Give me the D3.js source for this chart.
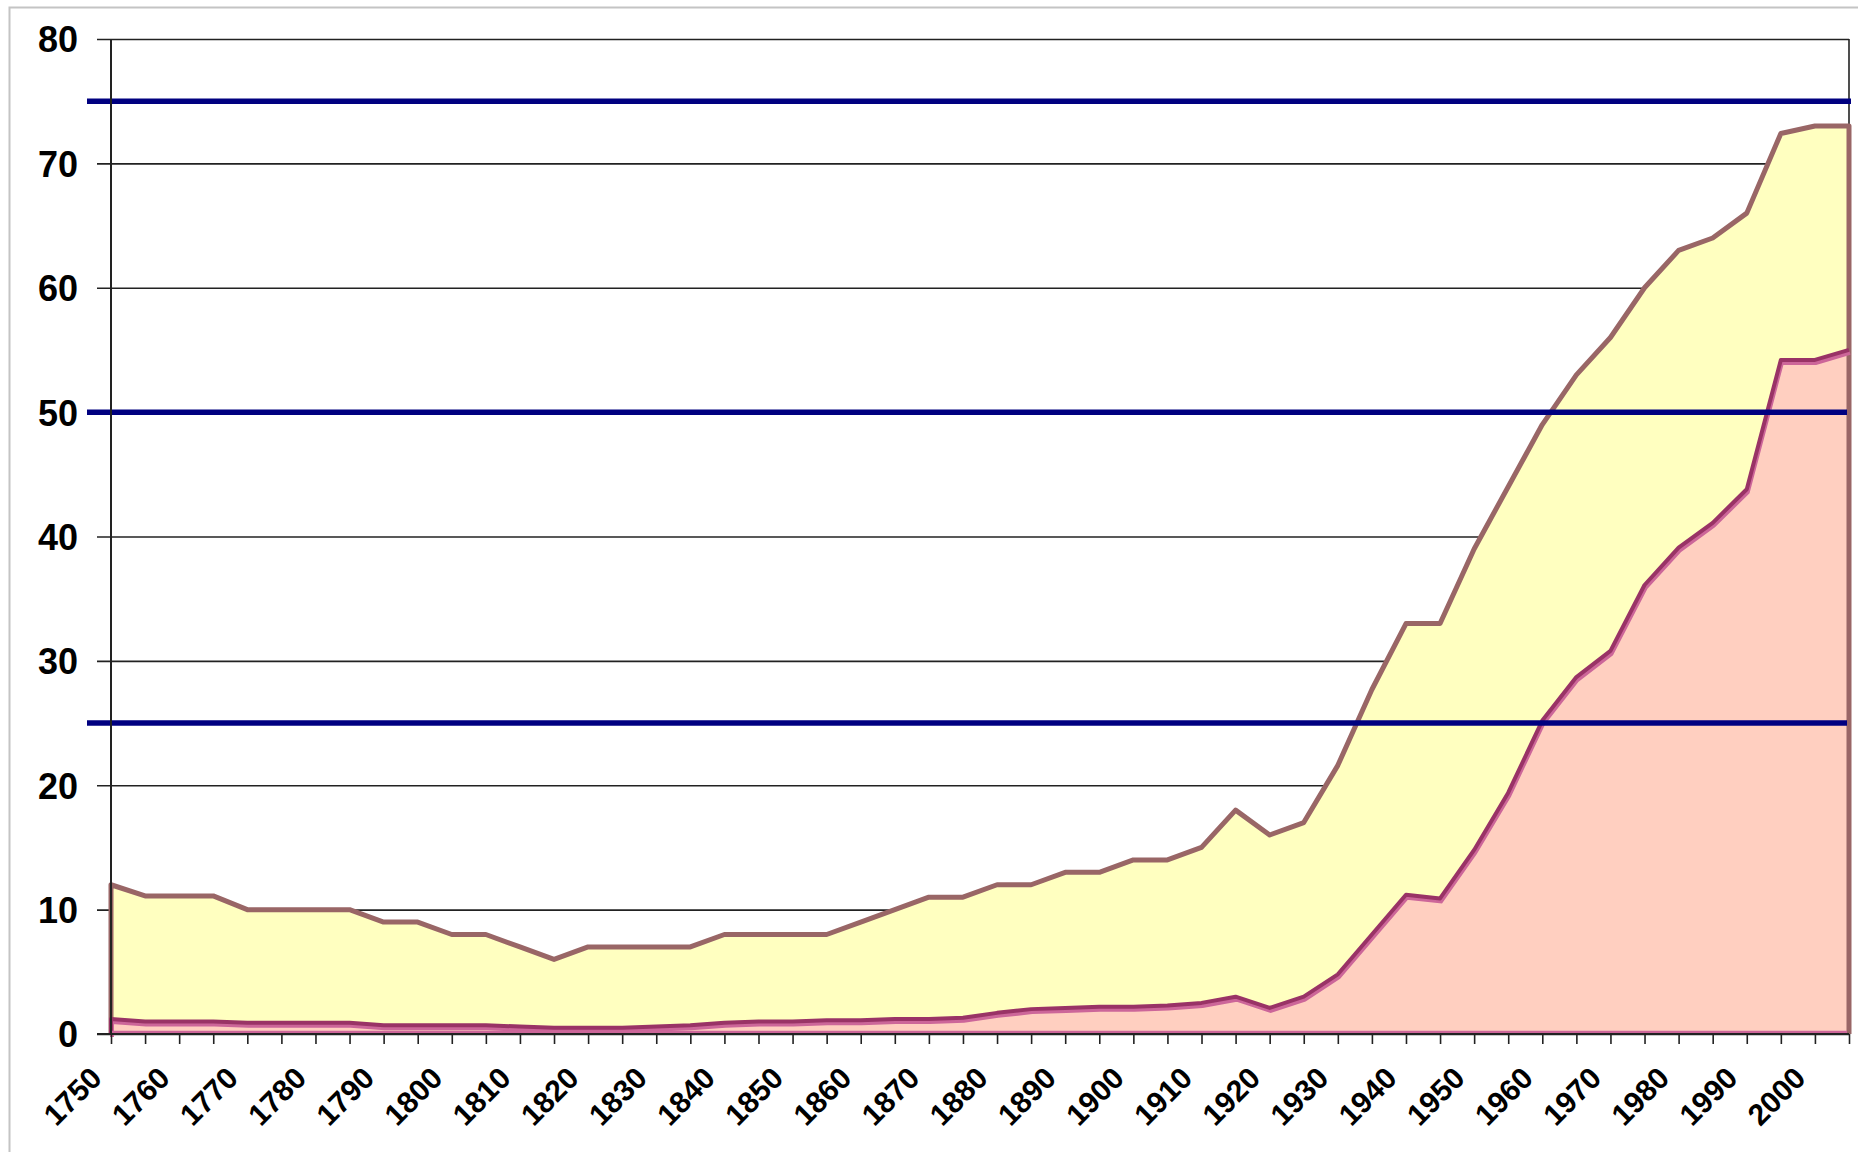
<!DOCTYPE html>
<head>
    <meta charset="utf-8">
    <title>Urban population share, 1750-2005</title>
    <style>
        body { margin: 0; background: #fff; }
        svg { display: block; }
        .ylab text { font-family: "Liberation Sans", Arial, sans-serif; font-weight: bold; font-size: 36px; fill: #000; }
        .xaxis text { font-family: "Liberation Sans", Arial, sans-serif; font-weight: bold; font-size: 30px; fill: #000; }
    </style>
</head>
<body>

<svg width="1858" height="1152"></svg>

<script src="https://d3js.org/d3.v7.min.js"></script>
<script>

    // categories: every 5 years
    var years = [1750, 1755, 1760, 1765, 1770, 1775, 1780, 1785, 1790, 1795,
        1800, 1805, 1810, 1815, 1820, 1825, 1830, 1835, 1840, 1845,
        1850, 1855, 1860, 1865, 1870, 1875, 1880, 1885, 1890, 1895,
        1900, 1905, 1910, 1915, 1920, 1925, 1930, 1935, 1940, 1945,
        1950, 1955, 1960, 1965, 1970, 1975, 1980, 1985, 1990, 1995,
        2000, 2005];

    // upper (yellow) series
    var upper = [12, 11.1, 11.1, 11.1, 10, 10, 10, 10, 9, 9,
        8, 8, 7, 6, 7, 7, 7, 7, 8, 8,
        8, 8, 9, 10, 11, 11, 12, 12, 13, 13,
        14, 14, 15, 18, 16, 17, 21.6, 27.7, 33, 33,
        39, 44, 49, 53, 56, 60, 63, 64, 66, 72.4,
        73, 73];

    // lower (pink) series
    var lower = [1.2, 1.0, 1.0, 1.0, 0.9, 0.9, 0.9, 0.9, 0.7, 0.7,
        0.7, 0.7, 0.6, 0.5, 0.5, 0.5, 0.6, 0.7, 0.9, 1.0,
        1.0, 1.1, 1.1, 1.2, 1.2, 1.3, 1.7, 2.0, 2.1, 2.2,
        2.2, 2.3, 2.5, 3.0, 2.1, 3.0, 4.8, 8.0, 11.2, 10.9,
        14.8, 19.4, 25.2, 28.7, 30.8, 36.1, 39.1, 41.1, 43.8, 54.2,
        54.2, 55];

    var yTicks = [0, 10, 20, 30, 40, 50, 60, 70, 80];
    var xLabels = [1750, 1760, 1770, 1780, 1790, 1800, 1810, 1820, 1830, 1840,
        1850, 1860, 1870, 1880, 1890, 1900, 1910, 1920, 1930, 1940,
        1950, 1960, 1970, 1980, 1990, 2000];
    var refLines = [25, 50, 75];

    var svg = d3.select("svg");

    var x = d3.scaleLinear().domain([1750, 2005]).range([111, 1849]);
    var y = d3.scaleLinear().domain([0, 80]).range([1034, 39]);

    // slide frame
    svg.append("path")
        .attr("d", "M9.5,1152 L9.5,7.5 L1858,7.5")
        .attr("fill", "none")
        .attr("stroke", "#c4c4c4")
        .attr("stroke-width", 2);

    // gridlines
    svg.append("g")
        .attr("transform", "translate(" + x(2005) + ",0)")
        .call(d3.axisLeft(y).tickValues(yTicks).tickSize(x(2005) - 97).tickFormat(""))
        .call(function (g) {
            g.select(".domain").remove();
            g.selectAll("line").attr("stroke", "#222").attr("stroke-width", 1.6);
        });

    // right border
    svg.append("line")
        .attr("x1", x(2005)).attr("x2", x(2005))
        .attr("y1", y(80)).attr("y2", y(0))
        .attr("stroke", "#222").attr("stroke-width", 1.6);

    var upperData = years.map(function (d, i) { return {year: d, v: upper[i]}; });
    var lowerData = years.map(function (d, i) { return {year: d, v: lower[i]}; });

    var area = d3.area()
        .x(function (d) { return x(d.year); })
        .y0(y(0))
        .y1(function (d) { return y(d.v); });

    var line = d3.line()
        .x(function (d) { return x(d.year); })
        .y(function (d) { return y(d.v); });

    // upper area
    svg.append("path")
        .datum(upperData)
        .attr("fill", "#ffffc0")
        .attr("d", area);

    // lower area
    svg.append("path")
        .datum(lowerData)
        .attr("fill", "#ffcfc0")
        .attr("d", area);

    // outline of upper series, including its vertical sides
    var upperOutline = [{year: 1750, v: 0}].concat(upperData, [{year: 2005, v: 0}]);
    svg.append("path")
        .datum(upperOutline)
        .attr("fill", "none")
        .attr("stroke", "#996666")
        .attr("stroke-width", 5)
        .attr("stroke-linejoin", "round")
        .attr("d", line);

    // lower series line: pink shade under a dark magenta line
    var lowerOutline = [{year: 1750, v: 0}].concat(lowerData);
    svg.append("path")
        .datum(lowerOutline)
        .attr("fill", "none")
        .attr("stroke", "#cc6699")
        .attr("stroke-width", 4)
        .attr("transform", "translate(1,3)")
        .attr("d", line);

    svg.append("path")
        .datum(lowerOutline)
        .attr("fill", "none")
        .attr("stroke", "#993366")
        .attr("stroke-width", 4)
        .attr("stroke-linejoin", "round")
        .attr("d", line);

    svg.append("line")
        .attr("x1", x(1750)).attr("x2", x(2005) - 2)
        .attr("y1", y(0) - 2).attr("y2", y(0) - 2)
        .attr("stroke", "#cc6699").attr("stroke-width", 2.5);

    // reference lines
    svg.append("g")
        .selectAll("line")
        .data(refLines)
        .enter().append("line")
        .attr("x1", 87)
        .attr("x2", function (d) { return d === 75 ? 1851 : 1847; })
        .attr("y1", function (d) { return y(d); })
        .attr("y2", function (d) { return y(d); })
        .attr("stroke", "#000080")
        .attr("stroke-width", 5.5);

    // y axis
    svg.append("line")
        .attr("x1", x(1750)).attr("x2", x(1750))
        .attr("y1", y(80)).attr("y2", y(0))
        .attr("stroke", "#222").attr("stroke-width", 2);

    svg.append("g")
        .attr("class", "ylab")
        .attr("transform", "translate(" + x(1750) + ",0)")
        .call(d3.axisLeft(y).tickValues(yTicks).tickSize(0).tickPadding(33))
        .call(function (g) {
            g.select(".domain").remove();
            g.selectAll("text").attr("dy", "0.36em");
        });

    // x axis
    svg.append("g")
        .attr("class", "xaxis")
        .attr("transform", "translate(0," + y(0) + ")")
        .call(d3.axisBottom(x)
            .tickValues(years)
            .tickSize(10)
            .tickFormat(function (d) { return xLabels.indexOf(d) >= 0 ? d : ""; }))
        .call(function (g) {
            g.select(".domain")
                .attr("d", "M97,0H" + x(2005))
                .attr("stroke", "#222")
                .attr("stroke-width", 2);
            g.selectAll("line").attr("stroke", "#222").attr("stroke-width", 1.6);
            g.selectAll("text")
                .attr("x", 0).attr("y", 0).attr("dy", 0)
                .attr("text-anchor", "end")
                .attr("transform", "translate(-8,46) rotate(-45)");
        });

</script>
</body>
